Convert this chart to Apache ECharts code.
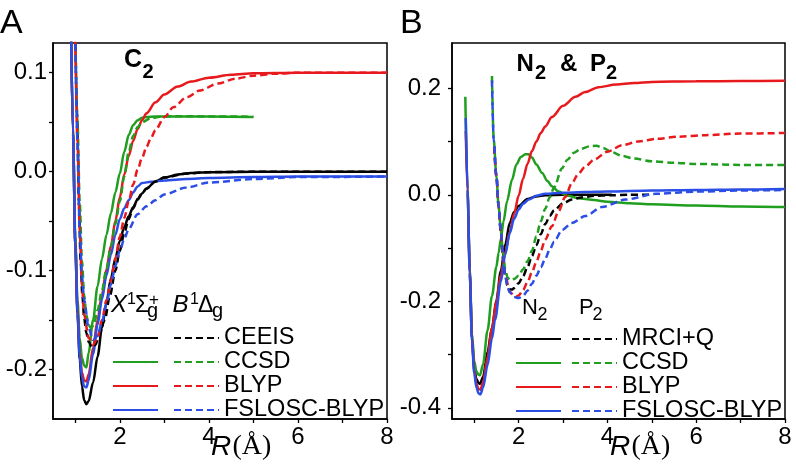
<!DOCTYPE html>
<html><head><meta charset="utf-8">
<script src="https://cdn.jsdelivr.net/npm/echarts@6/dist/echarts.min.js"></script>
<style>html,body{margin:0;padding:0;background:#fff}#c{width:796px;height:474px}</style>
</head><body><div id="c"></div><script>
// ---------- DATA (R in Å, E in hartree) ----------
// Panel A: C2, solid = X1Σg+, dashed = B1Δg
const c2X_CEEIS = [[0.9,0.16],[0.95,0.035],[1.0,-0.073],[1.05,-0.144],[1.1,-0.19],[1.15,-0.217],[1.2,-0.231],[1.25,-0.235],[1.3,-0.232],[1.4,-0.213],[1.5,-0.187],[1.6,-0.158],[1.7,-0.132],[1.8,-0.108],[1.9,-0.088],[2.0,-0.070],[2.1,-0.056],[2.2,-0.045],[2.3,-0.036],[2.4,-0.028],[2.5,-0.022],[2.6,-0.017],[2.8,-0.010],[3.0,-0.006],[3.3,-0.003],[3.6,-0.0015],[4.0,-0.0005],[5,0],[6,0],[7,0],[8,0]];
const c2X_CCSD = [[0.9,0.16],[0.95,0.04],[1.0,-0.065],[1.05,-0.13],[1.1,-0.168],[1.15,-0.188],[1.2,-0.196],[1.25,-0.198],[1.3,-0.183],[1.4,-0.15],[1.5,-0.116],[1.6,-0.088],[1.7,-0.064],[1.8,-0.042],[1.9,-0.021],[2.0,-0.002],[2.1,0.02],[2.2,0.037],[2.3,0.047],[2.4,0.052],[2.5,0.0545],[2.6,0.0553],[2.8,0.0558],[3.2,0.0558],[4,0.0556],[5,0.0553]];
const c2X_BLYP = [[0.9,0.16],[0.95,0.038],[1.0,-0.07],[1.05,-0.14],[1.1,-0.182],[1.15,-0.203],[1.2,-0.211],[1.25,-0.212],[1.3,-0.205],[1.4,-0.178],[1.5,-0.15],[1.6,-0.124],[1.7,-0.099],[1.8,-0.075],[1.9,-0.05],[2.0,-0.026],[2.1,-0.003],[2.2,0.016],[2.3,0.031],[2.4,0.043],[2.5,0.052],[2.6,0.059],[2.8,0.07],[3.0,0.078],[3.3,0.086],[3.6,0.091],[4.0,0.095],[4.5,0.098],[5,0.0995],[6,0.1],[8,0.1]];
const c2X_FSLOSC = [[0.9,0.16],[0.95,0.038],[1.0,-0.072],[1.05,-0.142],[1.1,-0.186],[1.15,-0.208],[1.2,-0.217],[1.25,-0.218],[1.3,-0.211],[1.4,-0.184],[1.5,-0.155],[1.6,-0.129],[1.7,-0.105],[1.8,-0.084],[1.9,-0.064],[2.0,-0.048],[2.1,-0.037],[2.2,-0.029],[2.3,-0.021],[2.4,-0.015],[2.5,-0.0115],[2.7,-0.0102],[3.0,-0.009],[3.5,-0.0075],[4,-0.0065],[5,-0.0055],[6,-0.005],[8,-0.005]];
const c2B_CEEIS = [[1.0,0.14],[1.04,0.06],[1.08,-0.03],[1.12,-0.09],[1.16,-0.125],[1.2,-0.148],[1.25,-0.163],[1.3,-0.172],[1.38,-0.178],[1.45,-0.175],[1.55,-0.163],[1.66,-0.15],[1.78,-0.125],[1.9,-0.1],[2.0,-0.08],[2.1,-0.062],[2.2,-0.048],[2.3,-0.037],[2.4,-0.028],[2.5,-0.022],[2.6,-0.017],[2.8,-0.010],[3.0,-0.006],[3.5,-0.002],[4,-0.0005],[5,0],[8,0]];
const c2B_CCSD = [[1.01,0.122],[1.05,0.05],[1.1,-0.03],[1.15,-0.09],[1.2,-0.125],[1.25,-0.145],[1.3,-0.155],[1.35,-0.158],[1.42,-0.155],[1.5,-0.14],[1.6,-0.12],[1.7,-0.098],[1.8,-0.076],[1.9,-0.053],[2.0,-0.03],[2.1,-0.005],[2.2,0.02],[2.3,0.036],[2.4,0.045],[2.5,0.05],[2.7,0.054],[2.9,0.0555],[3.2,0.056],[4,0.0558],[5,0.0555]];
const c2B_BLYP = [[1.0,0.135],[1.05,0.03],[1.1,-0.06],[1.15,-0.115],[1.2,-0.145],[1.3,-0.168],[1.4,-0.175],[1.5,-0.168],[1.6,-0.15],[1.7,-0.13],[1.8,-0.11],[1.9,-0.088],[2.0,-0.066],[2.1,-0.047],[2.2,-0.03],[2.3,-0.013],[2.4,0.002],[2.5,0.014],[2.6,0.025],[2.7,0.034],[2.8,0.042],[3.0,0.055],[3.2,0.065],[3.5,0.075],[3.8,0.082],[4.2,0.089],[4.6,0.094],[5,0.097],[5.5,0.099],[6,0.1],[8,0.1]];
const c2B_FSLOSC = [[1.0,0.14],[1.05,0.03],[1.1,-0.06],[1.15,-0.105],[1.2,-0.13],[1.3,-0.158],[1.4,-0.17],[1.5,-0.166],[1.6,-0.152],[1.7,-0.134],[1.8,-0.114],[1.9,-0.095],[2.0,-0.08],[2.1,-0.068],[2.2,-0.058],[2.4,-0.043],[2.6,-0.035],[2.8,-0.029],[3.0,-0.023],[3.5,-0.016],[4.0,-0.011],[5,-0.0075],[6,-0.0055],[8,-0.005]];
// Panel B: solid = N2, dashed = P2
const n2_MRCI = [[0.87,-0.04],[0.9,-0.15],[0.95,-0.27],[1.0,-0.325],[1.05,-0.346],[1.1,-0.354],[1.13,-0.355],[1.2,-0.342],[1.3,-0.295],[1.4,-0.25],[1.5,-0.198],[1.6,-0.143],[1.7,-0.093],[1.8,-0.053],[1.9,-0.032],[2.0,-0.021],[2.2,-0.008],[2.4,-0.003],[2.6,-0.001],[3.0,0],[3.5,0],[4.1,0]];
const n2_CCSD = [[0.8,0.184],[0.85,0.01],[0.9,-0.14],[0.95,-0.26],[1.0,-0.312],[1.05,-0.332],[1.1,-0.338],[1.13,-0.339],[1.2,-0.318],[1.3,-0.255],[1.4,-0.19],[1.5,-0.135],[1.55,-0.109],[1.6,-0.083],[1.66,-0.05],[1.74,-0.012],[1.85,0.028],[1.95,0.057],[2.05,0.071],[2.15,0.076],[2.22,0.076],[2.3,0.07],[2.4,0.057],[2.53,0.041],[2.65,0.026],[2.75,0.016],[2.9,0.006],[3.1,-0.002],[3.4,-0.007],[3.7,-0.01],[4.0,-0.013],[4.5,-0.016],[5,-0.018],[6,-0.02],[7,-0.022],[8,-0.023]];
const n2_BLYP = [[0.81,0.12],[0.85,0.005],[0.9,-0.145],[0.95,-0.27],[1.0,-0.33],[1.05,-0.355],[1.1,-0.365],[1.14,-0.366],[1.2,-0.352],[1.3,-0.305],[1.4,-0.25],[1.5,-0.2],[1.6,-0.15],[1.7,-0.108],[1.8,-0.07],[1.9,-0.035],[2.0,-0.002],[2.1,0.03],[2.2,0.058],[2.3,0.082],[2.4,0.1],[2.5,0.116],[2.6,0.128],[2.75,0.146],[3.0,0.167],[3.28,0.184],[3.5,0.193],[3.8,0.202],[4.2,0.207],[4.6,0.21],[5,0.212],[6,0.213],[7,0.2135],[8,0.214]];
const n2_FSLOSC = [[0.81,0.144],[0.85,0.01],[0.9,-0.145],[0.95,-0.275],[1.0,-0.335],[1.05,-0.362],[1.1,-0.373],[1.14,-0.375],[1.2,-0.362],[1.3,-0.32],[1.4,-0.27],[1.47,-0.235],[1.6,-0.163],[1.7,-0.112],[1.8,-0.072],[1.9,-0.045],[2.0,-0.028],[2.1,-0.017],[2.23,-0.009],[2.4,-0.002],[2.6,0.002],[3.0,0.004],[3.5,0.005],[4,0.006],[5,0.008],[6,0.009],[7,0.01],[8,0.011]];
const p2_MRCI = [[1.45,0.09],[1.5,0.035],[1.55,-0.022],[1.6,-0.07],[1.65,-0.12],[1.7,-0.152],[1.75,-0.17],[1.8,-0.178],[1.85,-0.178],[1.9,-0.175],[2.0,-0.166],[2.1,-0.153],[2.2,-0.136],[2.3,-0.115],[2.4,-0.095],[2.5,-0.074],[2.6,-0.055],[2.7,-0.04],[2.8,-0.029],[3.0,-0.016],[3.2,-0.009],[3.4,-0.005],[3.7,-0.002],[4.1,-0.001],[4.5,0],[5.0,0]];
const p2_CCSD = [[1.4,0.223],[1.44,0.103],[1.5,0.035],[1.55,-0.022],[1.6,-0.068],[1.65,-0.11],[1.7,-0.14],[1.75,-0.155],[1.8,-0.16],[1.9,-0.158],[2.0,-0.152],[2.1,-0.14],[2.2,-0.125],[2.3,-0.105],[2.4,-0.078],[2.5,-0.05],[2.6,-0.026],[2.7,-0.005],[2.8,0.014],[2.98,0.05],[3.1,0.066],[3.25,0.079],[3.4,0.086],[3.6,0.091],[3.75,0.092],[3.9,0.088],[4.1,0.08],[4.33,0.073],[4.6,0.068],[5.0,0.063],[5.5,0.06],[6,0.058],[7,0.056],[8,0.0557]];
const p2_BLYP = [[1.45,0.09],[1.5,0.035],[1.55,-0.022],[1.6,-0.07],[1.65,-0.118],[1.7,-0.152],[1.8,-0.182],[1.9,-0.19],[1.95,-0.191],[2.0,-0.189],[2.1,-0.179],[2.2,-0.164],[2.3,-0.146],[2.4,-0.126],[2.5,-0.105],[2.6,-0.084],[2.75,-0.059],[2.9,-0.031],[3.05,-0.004],[3.2,0.022],[3.35,0.04],[3.5,0.053],[3.7,0.066],[4.0,0.081],[4.33,0.093],[4.7,0.1],[5.1,0.105],[5.6,0.109],[6.2,0.112],[7,0.115],[8,0.116]];
const p2_FSLOSC = [[1.4,0.215],[1.44,0.103],[1.5,0.035],[1.55,-0.022],[1.6,-0.068],[1.65,-0.112],[1.7,-0.153],[1.75,-0.172],[1.8,-0.183],[1.9,-0.192],[2.0,-0.194],[2.1,-0.19],[2.2,-0.18],[2.3,-0.167],[2.4,-0.152],[2.5,-0.136],[2.6,-0.12],[2.7,-0.103],[2.8,-0.088],[2.98,-0.066],[3.2,-0.053],[3.5,-0.04],[3.88,-0.023],[4.4,-0.009],[5.1,0.002],[6,0.006],[7,0.008],[8,0.009]];

// tick values / labels
const xTicks = [1,2,3,4,5,6,7,8];
const xLabels = [2,4,6,8];
const yTicksA = [-0.2,-0.15,-0.1,-0.05,0,0.05,0.1];
const yLabelsA = [-0.2,-0.1,0,0.1];
const yTicksB = [-0.4,-0.3,-0.2,-0.1,0,0.1,0.2];
const yLabelsB = [-0.4,-0.2,0,0.2];
const methodsA = ['CEEIS','CCSD','BLYP','FSLOSC-BLYP'];
const methodsB = ['MRCI+Q','CCSD','BLYP','FSLOSC-BLYP'];
const colors = ['#000000','#1f9e1f','#e8191c','#2a4ee6'];

const solidA = [c2X_CEEIS,c2X_CCSD,c2X_BLYP,c2X_FSLOSC];
const dashA  = [c2B_CEEIS,c2B_CCSD,c2B_BLYP,c2B_FSLOSC];
const solidB = [n2_MRCI,n2_CCSD,n2_BLYP,n2_FSLOSC];
const dashB  = [p2_MRCI,p2_CCSD,p2_BLYP,p2_FSLOSC];

// ---------- CHART ----------
const FONT = 'Liberation Sans';
const DASH = [7,4];
const LW = 2.5;
function mk(data, name, i, dashed, idx) {
  return {
    type:'line', name, data, xAxisIndex:idx, yAxisIndex:idx,
    symbol:'none', smooth:0.3, smoothMonotone:'x', clip:true,
    color: colors[i],
    lineStyle:{color:colors[i], width:LW, type: dashed ? DASH : 'solid'},
    emphasis:{disabled:true}, silent:true, z: dashed ? 3 : 2
  };
}
const series = [];
const legSolidA=[], legDashA=[], legSolidB=[], legDashB=[];
methodsA.forEach((m,i)=>{ const n='A|X|'+m; series.push(mk(solidA[i],n,i,false,0)); legSolidA.push(n); });
methodsA.forEach((m,i)=>{ const n='A|B|'+m; series.push(mk(dashA[i],n,i,true,0)); legDashA.push(n); });
methodsB.forEach((m,i)=>{ const n='B|N|'+m; series.push(mk(solidB[i],n,i,false,1)); legSolidB.push(n); });
methodsB.forEach((m,i)=>{ const n='B|P|'+m; series.push(mk(dashB[i],n,i,true,1)); legDashB.push(n); });

function xAx(idx){
  return {type:'value', gridIndex:idx, min:0.5, max:8,
    axisLine:{show:true, onZero:false, lineStyle:{color:'#000', width:1.5}},
    axisTick:{show:true, customValues:xTicks, length:4, lineStyle:{color:'#000', width:1.3}},
    axisLabel:{customValues:xLabels, color:'#000', fontSize:24, fontFamily:FONT, margin:6},
    splitLine:{show:false}};
}
function yAx(idx,min,max,ticks,labels,margin){
  return {type:'value', gridIndex:idx, min, max,
    axisLine:{show:true, onZero:false, lineStyle:{color:'#000', width:1.5}},
    axisTick:{show:true, customValues:ticks, length:4, lineStyle:{color:'#000', width:1.3}},
    axisLabel:{customValues:labels, color:'#000', fontSize:24, fontFamily:FONT, margin,
      formatter:v=>Number(v).toFixed(1)},
    splitLine:{show:false}};
}
function legend(names, left, top, withText){
  return {data:names, orient:'vertical', left, top, padding:0, itemGap:0,
    itemWidth:45, itemHeight:14, selectedMode:false,
    itemStyle:{opacity:0},
    textStyle:{fontSize:23.5, fontFamily:FONT, color:'#000', lineHeight:23.5},
    formatter: withText ? (n=>n.split('|')[2]) : (()=>' ')};
}
function t(x,y,text,font){
  return {type:'text', x, y, silent:true, style:{text, font, fill:'#000', align:'left', verticalAlign:'middle'}};
}
const graphics = [
  t(0,23.5,'A','34px "Liberation Sans"'),
  t(400,23.5,'B','34px "Liberation Sans"'),
  t(124,60,'C','bold 25px "Liberation Sans"'),
  t(142.5,72,'2','bold 20px "Liberation Sans"'),
  t(516.5,64,'N','bold 24px "Liberation Sans"'),
  t(535,73.5,'2','bold 20px "Liberation Sans"'),
  t(560,64,'&','bold 24px "Liberation Sans"'),
  t(590,64,'P','bold 24px "Liberation Sans"'),
  t(606,73.5,'2','bold 20px "Liberation Sans"'),
  // axis titles
  t(211,447,'R','italic 28px "Liberation Sans"'),
  t(232.5,447,'(Å)','28px "Liberation Serif"'),
  t(610,447,'R','italic 28px "Liberation Sans"'),
  t(631.5,447,'(Å)','28px "Liberation Serif"'),
  // legend header A
  t(111,305,'X','italic 24px "Liberation Sans"'),
  t(127,299.5,'1','16px "Liberation Sans"'),
  t(135,305.5,'Σ','23px "Liberation Sans"'),
  t(149,300,'+','17px "Liberation Sans"'),
  t(147,311.5,'g','20px "Liberation Sans"'),
  t(172.5,305,'B','italic 24px "Liberation Sans"'),
  t(190,299.5,'1','16px "Liberation Sans"'),
  t(198,305.5,'Δ','23px "Liberation Sans"'),
  t(212,311.5,'g','20px "Liberation Sans"'),
  // legend header B
  t(522,308.3,'N','22px "Liberation Sans"'),
  t(537.5,315.3,'2','18px "Liberation Sans"'),
  t(579,308.3,'P','22px "Liberation Sans"'),
  t(592.5,315.3,'2','18px "Liberation Sans"')
];

const chart = echarts.init(document.getElementById('c'), null, {renderer:'canvas'});
chart.setOption({
  animation:false,
  backgroundColor:'#fff',
  grid:[
    {left:53, top:43, width:334, height:376, show:true, borderColor:'#000', borderWidth:1.5, backgroundColor:'transparent'},
    {left:452, top:43, width:333, height:376, show:true, borderColor:'#000', borderWidth:1.5, backgroundColor:'transparent'}
  ],
  xAxis:[xAx(0), xAx(1)],
  yAxis:[yAx(0,-0.25,0.13,yTicksA,yLabelsA,6), yAx(1,-0.421,0.285,yTicksB,yLabelsB,11)],
  legend:[
    legend(legSolidA,112,326,false), legend(legDashA,173,326,true),
    legend(legSolidB,515,327,false), legend(legDashB,571,327,true)
  ],
  graphic:graphics,
  series
});
</script></body></html>
